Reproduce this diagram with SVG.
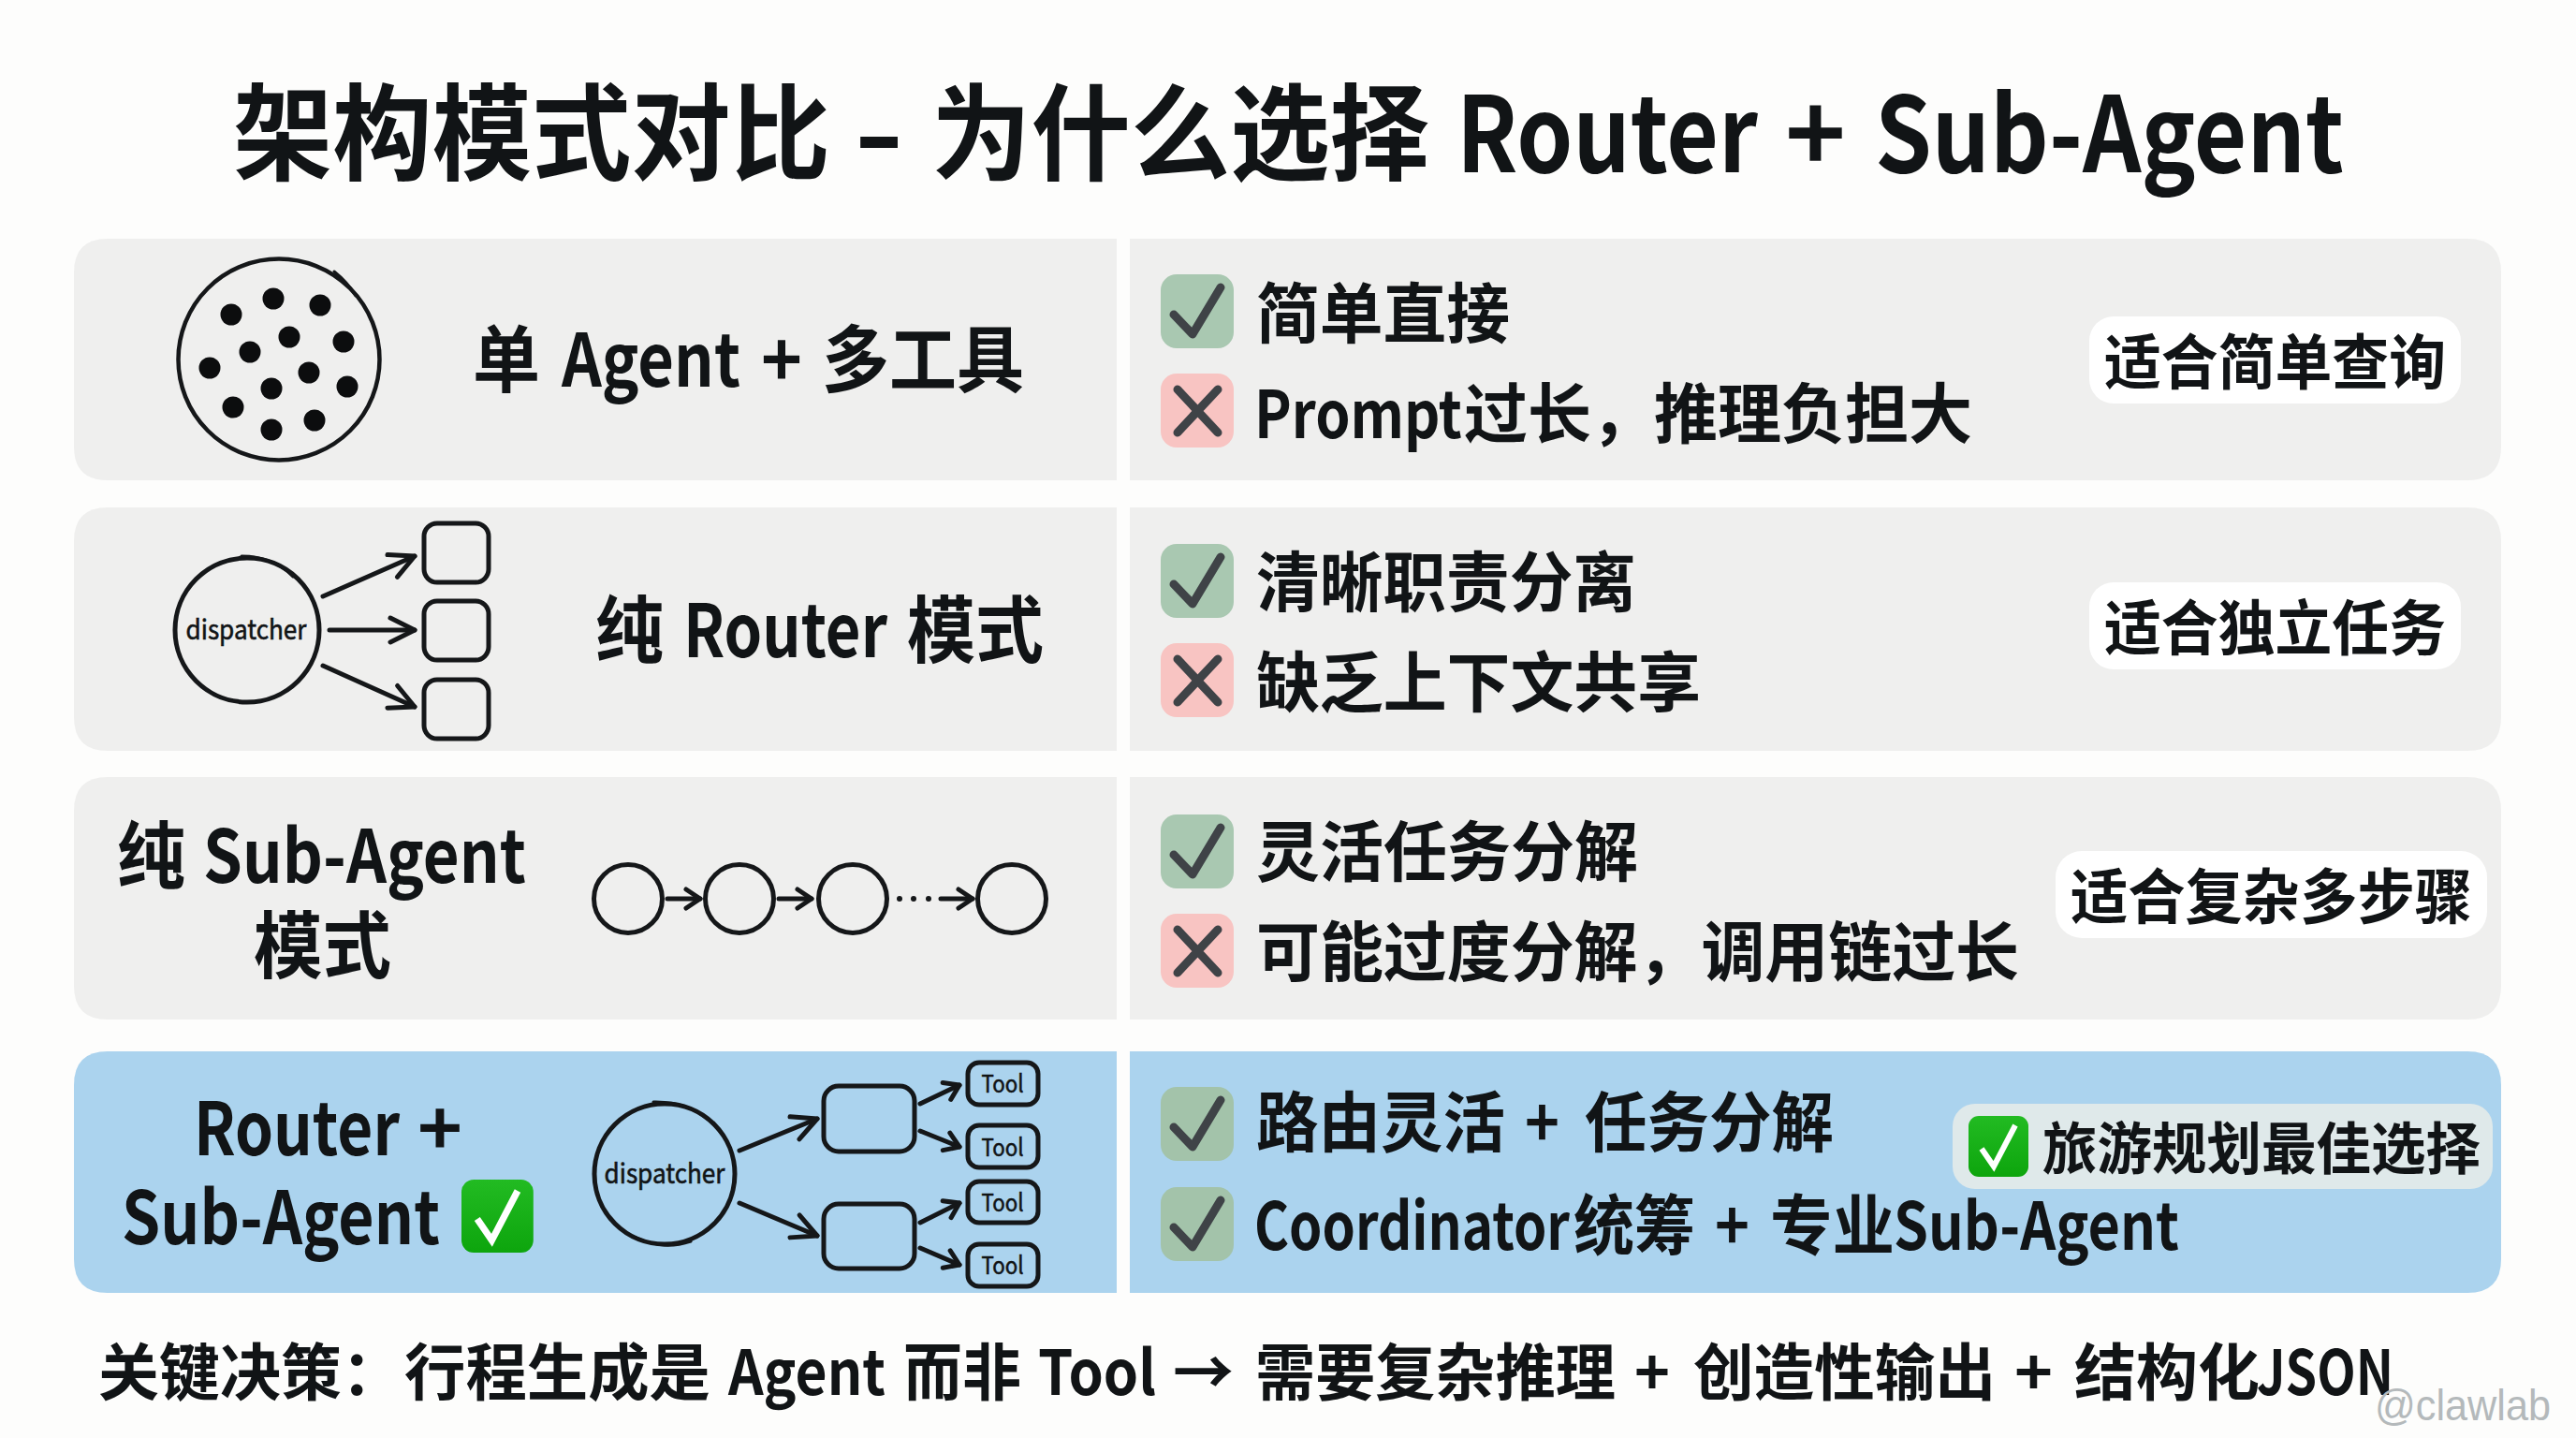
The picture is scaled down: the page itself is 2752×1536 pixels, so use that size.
<svg xmlns="http://www.w3.org/2000/svg" width="2752" height="1536" viewBox="0 0 2752 1536">
<style>
text{font-family:"Noto Sans CJK SC","Noto Sans",sans-serif;font-weight:700;fill:#111416}
.title{font-size:112px}
.lead{font-size:78px}
.item{font-size:70px}
.tag{font-size:64px}
.foot{font-size:66px}
.mini{font-size:29px;font-weight:400;text-anchor:middle;stroke:#111416;stroke-width:.6}
.tool{font-size:26px;font-weight:400;text-anchor:middle;stroke:#111416;stroke-width:.6}
.mark{font-family:"Liberation Sans",sans-serif;font-size:46px;font-weight:400;fill:#b4b9bb}
.grey{fill:#efefee}.blue{fill:#abd3ee}
.ln{fill:none;stroke:#151719;stroke-width:5;stroke-linecap:round;stroke-linejoin:round}
.ok{fill:#a9c8b1}.ok2{fill:#a3c3aa}.no{fill:#f8c4c2}
.glyph{fill:none;stroke:#3f4347;stroke-width:9;stroke-linecap:round;stroke-linejoin:round}
.pill{fill:#fff}
</style>
<defs>
<marker id="a" markerUnits="userSpaceOnUse" markerWidth="40" markerHeight="40" refX="34" refY="20" orient="auto"><path d="M8,7 L34,20 L8,33" fill="none" stroke="#151719" stroke-width="5" stroke-linecap="round" stroke-linejoin="round"/></marker>
<marker id="b" markerUnits="userSpaceOnUse" markerWidth="30" markerHeight="30" refX="24" refY="15" orient="auto"><path d="M9,5 L24,15 L9,25" fill="none" stroke="#151719" stroke-width="5" stroke-linecap="round" stroke-linejoin="round"/></marker>
<linearGradient id="g" x1="0" y1="0" x2="0" y2="1"><stop offset="0" stop-color="#22bb22"/><stop offset="1" stop-color="#0da50d"/></linearGradient>
<g id="okg"><rect width="78" height="79" rx="17"/><path class="glyph" d="M14,43 L34,64 L64,14"/></g>
<g id="nog"><rect width="78" height="79" rx="17" class="no"/><path class="glyph" d="M18,17 L61,63 M61,17 L18,63"/></g>
<g id="emoji"><rect width="64" height="65" rx="11" fill="url(#g)"/><path d="M14,35 L27,54 L50,10" fill="none" stroke="#fff" stroke-width="6"/></g>
</defs>
<rect width="2752" height="1536" fill="#fdfdfc"/>
<text id="title" class="title" y="184"><tspan x="249" textLength="638" lengthAdjust="spacingAndGlyphs">架构模式对比</tspan> <tspan x="912" textLength="54" lengthAdjust="spacingAndGlyphs">-</tspan> <tspan x="995" textLength="532" lengthAdjust="spacingAndGlyphs">为什么选择</tspan> <tspan x="1556" textLength="322" lengthAdjust="spacingAndGlyphs">Router</tspan> <tspan x="1907" textLength="65" lengthAdjust="spacingAndGlyphs">+</tspan> <tspan x="2003" textLength="501" lengthAdjust="spacingAndGlyphs">Sub-Agent</tspan></text>

<g id="row1">
<path class="grey" d="M1193,255 V513 H115 Q79,513 79,477 V291 Q79,255 115,255 Z"/>
<path class="grey" d="M1207,255 V513 H2636 Q2672,513 2672,477 V291 Q2672,255 2636,255 Z"/>
<g id="single-agent-icon"><circle class="ln" style="stroke-width:4.5" cx="298" cy="384" r="107.5"/><path class="ln" style="stroke-width:3" d="M357,290 Q372,302 380,316"/>
<g fill="#0c0d0e"><circle cx="247" cy="336" r="11.5"/><circle cx="292" cy="319" r="11.5"/><circle cx="342" cy="326" r="11.5"/><circle cx="309" cy="360" r="11.5"/><circle cx="367" cy="365" r="11.5"/><circle cx="267" cy="376" r="11.5"/><circle cx="224" cy="393" r="11.5"/><circle cx="330" cy="398" r="11.5"/><circle cx="371" cy="413" r="11.5"/><circle cx="290" cy="415" r="11.5"/><circle cx="249" cy="435" r="11.5"/><circle cx="336" cy="449" r="11.5"/><circle cx="290" cy="459" r="11.5"/></g></g>
<text class="lead" y="413"><tspan x="505" textLength="72" lengthAdjust="spacingAndGlyphs">单</tspan> <tspan x="600" textLength="191" lengthAdjust="spacingAndGlyphs">Agent</tspan> <tspan x="813" textLength="44" lengthAdjust="spacingAndGlyphs">+</tspan> <tspan x="878" textLength="216" lengthAdjust="spacingAndGlyphs">多工具</tspan></text>
<use href="#okg" x="1240" y="293" class="ok"/><use href="#nog" x="1240" y="399"/>
<text class="item" x="1342" y="361" textLength="271" lengthAdjust="spacingAndGlyphs">简单直接</text>
<text class="item" y="468"><tspan x="1340" textLength="222" lengthAdjust="spacingAndGlyphs">Prompt</tspan><tspan x="1564" textLength="204" lengthAdjust="spacingAndGlyphs">过长，</tspan><tspan x="1767" textLength="340" lengthAdjust="spacingAndGlyphs">推理负担大</tspan></text>
<rect class="pill" x="2232" y="338" width="397" height="93" rx="26"/>
<text class="tag" x="2248" y="410" textLength="365" lengthAdjust="spacingAndGlyphs">适合简单查询</text>
</g>

<g id="row2">
<path class="grey" d="M1193,542 V802 H115 Q79,802 79,766 V578 Q79,542 115,542 Z"/>
<path class="grey" d="M1207,542 V802 H2636 Q2672,802 2672,766 V578 Q2672,542 2636,542 Z"/>
<g id="router-dispatcher"><circle class="ln" cx="264" cy="673" r="77"/><path class="ln" style="stroke-width:3" d="M258,594 Q292,594 313,616"/><text class="mini" x="263" y="683" textLength="129" lengthAdjust="spacingAndGlyphs">dispatcher</text></g>
<rect id="router-box-1" class="ln" x="453" y="559" width="69" height="63" rx="14"/>
<rect id="router-box-2" class="ln" x="453" y="642" width="69" height="63" rx="14"/>
<rect id="router-box-3" class="ln" x="453" y="726" width="69" height="63" rx="14"/>
<text class="lead" y="702"><tspan x="636" textLength="73" lengthAdjust="spacingAndGlyphs">纯</tspan> <tspan x="730" textLength="218" lengthAdjust="spacingAndGlyphs">Router</tspan> <tspan x="969" textLength="146" lengthAdjust="spacingAndGlyphs">模式</tspan></text>
<use href="#okg" x="1240" y="581" class="ok"/><use href="#nog" x="1240" y="687"/>
<text class="item" x="1342" y="648" textLength="406" lengthAdjust="spacingAndGlyphs">清晰职责分离</text>
<text class="item" x="1342" y="755" textLength="475" lengthAdjust="spacingAndGlyphs">缺乏上下文共享</text>
<rect class="pill" x="2232" y="622" width="397" height="93" rx="26"/>
<text class="tag" x="2248" y="694" textLength="365" lengthAdjust="spacingAndGlyphs">适合独立任务</text>
</g>

<g id="row3">
<path class="grey" d="M1193,830 V1089 H115 Q79,1089 79,1053 V866 Q79,830 115,830 Z"/>
<path class="grey" d="M1207,830 V1089 H2636 Q2672,1089 2672,1053 V866 Q2672,830 2636,830 Z"/>
<text class="lead" y="943"><tspan x="125" textLength="73" lengthAdjust="spacingAndGlyphs">纯</tspan> <tspan x="217" textLength="345" lengthAdjust="spacingAndGlyphs">Sub-Agent</tspan></text>
<text class="lead" x="271" y="1039" textLength="147" lengthAdjust="spacingAndGlyphs">模式</text>
<circle id="chain-1" class="ln" cx="671" cy="960" r="36.5"/>
<circle id="chain-2" class="ln" cx="790" cy="960" r="36.5"/>
<circle id="chain-3" class="ln" cx="911" cy="960" r="36.5"/>
<circle id="chain-4" class="ln" cx="1081" cy="960" r="36.5"/>
<use href="#okg" x="1240" y="870" class="ok"/><use href="#nog" x="1240" y="976"/>
<text class="item" x="1342" y="936" textLength="408" lengthAdjust="spacingAndGlyphs">灵活任务分解</text>
<text class="item" x="1342" y="1043" textLength="815" lengthAdjust="spacingAndGlyphs">可能过度分解，调用链过长</text>
<rect class="pill" x="2196" y="909" width="461" height="93" rx="28"/>
<text class="tag" x="2212" y="981" textLength="429" lengthAdjust="spacingAndGlyphs">适合复杂多步骤</text>
</g>

<g id="row4">
<path class="blue" d="M1193,1123 V1381 H115 Q79,1381 79,1345 V1159 Q79,1123 115,1123 Z"/>
<path class="blue" d="M1207,1123 V1381 H2636 Q2672,1381 2672,1345 V1159 Q2672,1123 2636,1123 Z"/>
<text class="lead" y="1234"><tspan x="207" textLength="220" lengthAdjust="spacingAndGlyphs">Router</tspan> <tspan x="446" textLength="48" lengthAdjust="spacingAndGlyphs">+</tspan></text>
<text class="lead" x="130" y="1329" textLength="340" lengthAdjust="spacingAndGlyphs">Sub-Agent</text>
<use href="#emoji" transform="translate(493,1260) scale(1.2)"/>
<g id="hybrid-dispatcher"><circle class="ln" cx="710" cy="1254" r="75"/><path class="ln" style="stroke-width:3" d="M698,1177 Q744,1176 770,1210 M680,1322 Q708,1336 738,1326"/><text class="mini" x="710" y="1264" textLength="129" lengthAdjust="spacingAndGlyphs">dispatcher</text></g>
<rect id="hybrid-box-1" class="ln" x="880" y="1160" width="97" height="70" rx="16"/>
<rect id="hybrid-box-2" class="ln" x="880" y="1286" width="97" height="69" rx="16"/>
<g id="tool-1"><rect class="ln" x="1034" y="1135" width="75" height="45" rx="12"/><text class="tool" x="1071" y="1167" textLength="45" lengthAdjust="spacingAndGlyphs">Tool</text></g>
<g id="tool-2"><rect class="ln" x="1034" y="1202" width="75" height="45" rx="12"/><text class="tool" x="1071" y="1235" textLength="45" lengthAdjust="spacingAndGlyphs">Tool</text></g>
<g id="tool-3"><rect class="ln" x="1034" y="1262" width="75" height="44" rx="12"/><text class="tool" x="1071" y="1294" textLength="45" lengthAdjust="spacingAndGlyphs">Tool</text></g>
<g id="tool-4"><rect class="ln" x="1034" y="1329" width="75" height="45" rx="12"/><text class="tool" x="1071" y="1361" textLength="45" lengthAdjust="spacingAndGlyphs">Tool</text></g>
<use href="#okg" x="1240" y="1161" class="ok2"/><use href="#okg" x="1240" y="1268" class="ok2"/>
<text class="item" y="1225"><tspan x="1342" textLength="266" lengthAdjust="spacingAndGlyphs">路由灵活</tspan> <tspan x="1629" textLength="37" lengthAdjust="spacingAndGlyphs">+</tspan> <tspan x="1693" textLength="266" lengthAdjust="spacingAndGlyphs">任务分解</tspan></text>
<text class="item" y="1335"><tspan x="1340" textLength="337" lengthAdjust="spacingAndGlyphs">Coordinator</tspan><tspan x="1681" textLength="130" lengthAdjust="spacingAndGlyphs">统筹</tspan> <tspan x="1832" textLength="37" lengthAdjust="spacingAndGlyphs">+</tspan> <tspan x="1891" textLength="133" lengthAdjust="spacingAndGlyphs">专业</tspan><tspan x="2023" textLength="305" lengthAdjust="spacingAndGlyphs">Sub-Agent</tspan></text>
<rect x="2086" y="1179" width="577" height="91" rx="24" fill="#dfe9ea"/>
<use href="#emoji" x="2103" y="1192"/>
<text class="tag" style="font-size:60px" x="2182" y="1249" textLength="468" lengthAdjust="spacingAndGlyphs">旅游规划最佳选择</text>
</g>

<g id="connectors">
<path class="ln" marker-end="url(#a)" d="M345,637 L443,594"/>
<path class="ln" marker-end="url(#a)" d="M352,673 L443,673"/>
<path class="ln" marker-end="url(#a)" d="M345,711 L443,755"/>
<path class="ln" marker-end="url(#b)" d="M713,960 L748,960"/>
<path class="ln" marker-end="url(#b)" d="M832,960 L867,960"/>
<path class="ln" marker-end="url(#b)" d="M1005,960 L1039,960"/>
<g fill="#151719"><circle cx="961" cy="960" r="3"/><circle cx="976" cy="960" r="3"/><circle cx="992" cy="960" r="3"/></g>
<path class="ln" marker-end="url(#a)" d="M790,1229 L873,1195"/>
<path class="ln" marker-end="url(#a)" d="M790,1285 L873,1320"/>
<path class="ln" marker-end="url(#b)" d="M983,1179 L1025,1159"/>
<path class="ln" marker-end="url(#b)" d="M983,1208 L1025,1225"/>
<path class="ln" marker-end="url(#b)" d="M983,1306 L1025,1285"/>
<path class="ln" marker-end="url(#b)" d="M983,1333 L1025,1351"/>
</g>

<text id="footer" class="foot" y="1490"><tspan x="105" textLength="325" lengthAdjust="spacingAndGlyphs">关键决策：</tspan><tspan x="432" textLength="327" lengthAdjust="spacingAndGlyphs">行程生成是</tspan> <tspan x="778" textLength="168" lengthAdjust="spacingAndGlyphs">Agent</tspan> <tspan x="965" textLength="126" lengthAdjust="spacingAndGlyphs">而非</tspan> <tspan x="1109" textLength="126" lengthAdjust="spacingAndGlyphs">Tool</tspan> <tspan x="1253" textLength="65" lengthAdjust="spacingAndGlyphs">→</tspan> <tspan x="1341" textLength="385" lengthAdjust="spacingAndGlyphs">需要复杂推理</tspan> <tspan x="1746" textLength="38" lengthAdjust="spacingAndGlyphs">+</tspan> <tspan x="1809" textLength="323" lengthAdjust="spacingAndGlyphs">创造性输出</tspan> <tspan x="2152" textLength="41" lengthAdjust="spacingAndGlyphs">+</tspan> <tspan x="2216" textLength="198" lengthAdjust="spacingAndGlyphs">结构化</tspan><tspan x="2411" textLength="146" lengthAdjust="spacingAndGlyphs">JSON</tspan></text>
<text id="watermark" class="mark" x="2537" y="1517" textLength="188" lengthAdjust="spacingAndGlyphs">@clawlab</text>
</svg>
